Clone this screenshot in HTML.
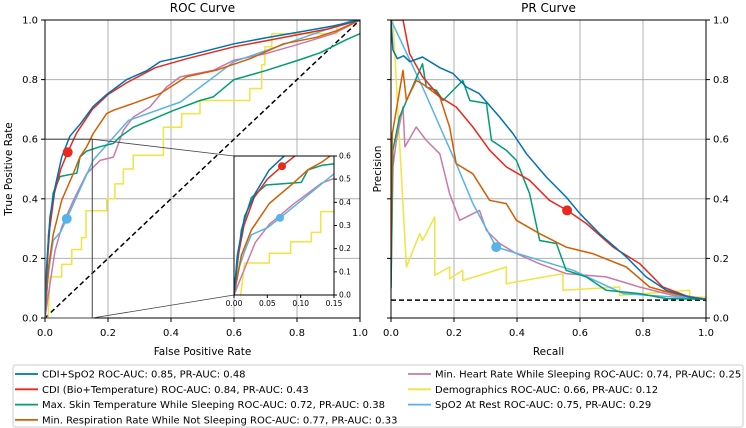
<!DOCTYPE html>
<html><head><meta charset="utf-8">
<style>
body{margin:0;background:#fff;}
svg{display:block;font-family:"DejaVu Sans","Liberation Sans",sans-serif;}
</style></head>
<body>
<svg id="chart" width="746" height="428" viewBox="0 0 746 428" xmlns="http://www.w3.org/2000/svg"></svg>
<script>
const seriesNames = ["CDI+SpO2 ROC-AUC: 0.85, PR-AUC: 0.48","CDI (Bio+Temperature) ROC-AUC: 0.84, PR-AUC: 0.43","Max. Skin Temperature While Sleeping ROC-AUC: 0.72, PR-AUC: 0.38","Min. Respiration Rate While Not Sleeping ROC-AUC: 0.77, PR-AUC: 0.33","Min. Heart Rate While Sleeping ROC-AUC: 0.74, PR-AUC: 0.25","Demographics ROC-AUC: 0.66, PR-AUC: 0.12","SpO2 At Rest ROC-AUC: 0.75, PR-AUC: 0.29"];
const seriesColors = ["#0072B2","#E8291C","#009E73","#D55E00","#CC79A7","#F0E442","#56B4E9"];
const tickLabels = ["0.0","0.2","0.4","0.6","0.8","1.0"];
const insetXTicks = ["0.00","0.05","0.10","0.15"];
const insetYTicks = ["0.0","0.1","0.2","0.3","0.4","0.5","0.6"];
const rocBlue = [[0,0],[0.005,0.17],[0.016,0.34],[0.032,0.44],[0.053,0.54],[0.079,0.61],[0.111,0.65],[0.153,0.71],[0.196,0.75],[0.259,0.8],[0.323,0.83],[0.365,0.86],[0.45,0.88],[0.6,0.92],[0.7,0.94],[0.81,0.96],[0.915,0.98],[1,1]];
const rocRed = [[0,0],[0.005,0.15],[0.015,0.3],[0.03,0.42],[0.05,0.5],[0.072,0.556],[0.1,0.62],[0.15,0.7],[0.2,0.75],[0.26,0.79],[0.35,0.84],[0.45,0.87],[0.6,0.91],[0.7,0.93],[0.8,0.95],[0.9,0.97],[1,1]];
const rocGreen = [[0,0],[0.011,0.28],[0.026,0.42],[0.048,0.475],[0.101,0.486],[0.111,0.54],[0.132,0.56],[0.175,0.575],[0.217,0.586],[0.238,0.608],[0.28,0.64],[0.344,0.668],[0.407,0.696],[0.492,0.73],[0.534,0.742],[0.6,0.8],[0.7,0.83],[0.81,0.867],[0.873,0.89],[0.958,0.935],[1,0.954]];
const rocOrange = [[0,0],[0.011,0.17],[0.026,0.28],[0.053,0.395],[0.09,0.485],[0.111,0.541],[0.132,0.574],[0.153,0.619],[0.196,0.686],[0.217,0.697],[0.28,0.72],[0.365,0.753],[0.45,0.81],[0.545,0.832],[0.651,0.87],[0.757,0.92],[0.862,0.942],[0.926,0.964],[1,1]];
const rocPink = [[0,0],[0.016,0.115],[0.032,0.227],[0.053,0.305],[0.09,0.394],[0.132,0.484],[0.175,0.529],[0.217,0.54],[0.249,0.63],[0.28,0.674],[0.333,0.708],[0.386,0.775],[0.429,0.809],[0.534,0.831],[0.6,0.865],[0.7,0.887],[0.81,0.92],[0.915,0.954],[0.958,0.977],[1,1]];
const rocYellow = [[0.01,0],[0.016,0.138],[0.053,0.138],[0.053,0.18],[0.085,0.18],[0.085,0.23],[0.116,0.23],[0.116,0.27],[0.13,0.27],[0.13,0.36],[0.196,0.36],[0.196,0.4],[0.222,0.4],[0.222,0.45],[0.249,0.45],[0.249,0.5],[0.28,0.5],[0.28,0.546],[0.376,0.546],[0.376,0.64],[0.434,0.64],[0.434,0.686],[0.492,0.686],[0.492,0.73],[0.65,0.73],[0.65,0.77],[0.688,0.77],[0.688,0.85],[0.698,0.85],[0.698,0.91],[0.72,0.91],[0.72,0.954],[0.926,0.954],[0.926,0.98],[1,1]];
const rocLightBlue = [[0,0],[0.008,0.12],[0.016,0.19],[0.026,0.26],[0.05,0.29],[0.069,0.333],[0.153,0.53],[0.265,0.663],[0.43,0.725],[0.6,0.86],[0.98,1],[1,1]];
const prBlue = [[0,1],[0.006,0.9],[0.02,0.87],[0.04,0.88],[0.06,0.86],[0.1,0.876],[0.155,0.84],[0.197,0.82],[0.239,0.775],[0.28,0.753],[0.345,0.674],[0.387,0.619],[0.43,0.551],[0.493,0.473],[0.556,0.406],[0.6,0.35],[0.662,0.283],[0.747,0.205],[0.81,0.138],[0.874,0.093],[0.948,0.07],[1,0.063]];
const prRed = [[0,1],[0.038,1],[0.059,0.887],[0.1,0.81],[0.155,0.742],[0.207,0.708],[0.26,0.641],[0.313,0.563],[0.366,0.507],[0.44,0.462],[0.503,0.395],[0.559,0.361],[0.62,0.317],[0.705,0.238],[0.79,0.182],[0.863,0.104],[0.948,0.07],[1,0.063]];
const prGreen = [[0,0.1],[0.006,0.563],[0.027,0.674],[0.059,0.753],[0.1,0.853],[0.112,0.775],[0.144,0.764],[0.165,0.73],[0.228,0.797],[0.25,0.73],[0.303,0.72],[0.319,0.596],[0.366,0.563],[0.398,0.529],[0.44,0.417],[0.472,0.26],[0.525,0.25],[0.556,0.16],[0.62,0.138],[0.683,0.093],[0.789,0.082],[0.874,0.065],[1,0.063]];
const prOrange = [[0,0.2],[0.004,0.618],[0.038,0.831],[0.049,0.73],[0.08,0.797],[0.1,0.786],[0.155,0.742],[0.186,0.641],[0.207,0.518],[0.26,0.484],[0.313,0.395],[0.366,0.384],[0.398,0.328],[0.472,0.283],[0.556,0.238],[0.64,0.216],[0.747,0.171],[0.821,0.104],[0.895,0.082],[1,0.063]];
const prPink = [[0,0.1],[0.006,0.507],[0.017,0.596],[0.038,0.708],[0.044,0.574],[0.08,0.641],[0.112,0.596],[0.155,0.551],[0.186,0.417],[0.218,0.328],[0.281,0.361],[0.303,0.294],[0.345,0.25],[0.398,0.216],[0.472,0.182],[0.556,0.149],[0.683,0.138],[0.789,0.104],[0.895,0.076],[1,0.063]];
const prYellow = [[0.006,1],[0.049,0.171],[0.091,0.283],[0.1,0.26],[0.139,0.339],[0.139,0.143],[0.186,0.171],[0.186,0.132],[0.228,0.16],[0.228,0.126],[0.366,0.171],[0.366,0.115],[0.546,0.149],[0.546,0.093],[0.726,0.104],[0.726,0.076],[0.948,0.093],[0.948,0.07],[1,0.07]];
const prLightBlue = [[0,1],[0.1,0.775],[0.207,0.518],[0.26,0.384],[0.334,0.238],[0.578,0.16],[0.737,0.082],[1,0.063]];
const prBaseline = 0.06;
const optRed = [0.072,0.556]; const optLightBlue = [0.069,0.333];
const prOptRed = [0.559,0.361]; const prOptLightBlue = [0.334,0.238];

const rocSeries=[rocBlue,rocRed,rocGreen,rocOrange,rocPink,rocYellow,rocLightBlue];
const prSeries=[prBlue,prRed,prGreen,prOrange,prPink,prYellow,prLightBlue];
const drawOrder=[5,4,6,2,3,1,0];
const svg=document.getElementById('chart');
const NS="http://www.w3.org/2000/svg";
function mk(tag,attrs,parent){const e=document.createElementNS(NS,tag);for(const k in attrs)e.setAttribute(k,attrs[k]);(parent||svg).appendChild(e);return e;}
function txt(s,x,y,size,anchor,parent){const t=mk('text',{x:x,y:y,'font-size':size,'text-anchor':anchor||'middle',fill:'#000'},parent);t.textContent=s;return t;}
function axis(x0,x1,y0,y1,dx0,dx1,dy0,dy1){return {sx:v=>x0+(v-dx0)/(dx1-dx0)*(x1-x0),sy:v=>y1-(v-dy0)/(dy1-dy0)*(y1-y0)};}
const R=axis(45,360,20,318,0,1,0,1), P=axis(391,706,20,318,0,1,0,1), I=axis(234,334,156,295,0,0.15,0,0.6);
const defs=mk('defs',{});
function clip(id,x,y,w,h){const c=mk('clipPath',{id:id},defs);mk('rect',{x:x,y:y,width:w,height:h},c);}
clip('clipR',45,20,315,298);clip('clipP',391,20,315,298);clip('clipI',234,156,100,139);
function poly(ax,pts,color,g,dash){const d=pts.map(p=>ax.sx(p[0]).toFixed(1)+','+ax.sy(p[1]).toFixed(1)).join(' ');return mk('polyline',{points:d,fill:'none',stroke:color,'stroke-width':1.5,'stroke-linejoin':'round','stroke-dasharray':dash||'none'},g);}
function frame(x,y,w,h,name){const r=mk('rect',{x:x,y:y,width:w,height:h,fill:'none',stroke:'#000','stroke-width':1});}

// ROC panel
const gR=mk('g',{'clip-path':'url(#clipR)'});


tickLabels.forEach((s,i)=>{const v=i/5;mk('line',{x1:R.sx(v),x2:R.sx(v),y1:20,y2:318,stroke:'#b0b0b0','stroke-width':1},gR);mk('line',{x1:45,x2:360,y1:R.sy(v),y2:R.sy(v),stroke:'#b0b0b0','stroke-width':1},gR);});
poly(R,[[0,0],[1,1]],'#000',gR,'5,3');
drawOrder.forEach(i=>{const l=poly(R,rocSeries[i],seriesColors[i],gR);});
[[optRed,1],[optLightBlue,6]].forEach(([p,i])=>{const c=mk('circle',{cx:R.sx(p[0]),cy:R.sy(p[1]),r:5,fill:seriesColors[i]});});
frame(45,20,315,298,'roc-axes-frame');
mk('rect',{x:R.sx(0),y:R.sy(0.6),width:R.sx(0.15)-R.sx(0),height:R.sy(0)-R.sy(0.6),fill:'none',stroke:'#444','stroke-width':1});
mk('line',{x1:R.sx(0.15),y1:R.sy(0.6),x2:234,y2:156,stroke:'#444','stroke-width':0.8});
mk('line',{x1:R.sx(0.15),y1:R.sy(0),x2:234,y2:295,stroke:'#444','stroke-width':0.8});
tickLabels.forEach((s,i)=>{const v=i/5;mk('line',{x1:R.sx(v),x2:R.sx(v),y1:318,y2:322,stroke:'#000'});txt(s,R.sx(v),336,10);mk('line',{x1:41,x2:45,y1:R.sy(v),y2:R.sy(v),stroke:'#000'});txt(s,38,R.sy(v)+3.5,10,'end');});
const t1=txt('ROC Curve',202.5,12,12);
const xl1=txt('False Positive Rate',202.5,355,10.5);
const yl1=txt('True Positive Rate',0,0,10.5);yl1.setAttribute('transform','translate(12,169) rotate(-90)');

// Inset
const inBg=mk('rect',{x:234,y:156,width:100,height:139,fill:'#fff'});

const gI=mk('g',{'clip-path':'url(#clipI)'});
drawOrder.forEach(i=>poly(I,rocSeries[i],seriesColors[i],gI));
[[optRed,1],[optLightBlue,6]].forEach(([p,i])=>mk('circle',{cx:I.sx(p[0]),cy:I.sy(p[1]),r:4,fill:seriesColors[i]}));
frame(234,156,100,139,'inset-frame');
insetXTicks.forEach((s,i)=>{const v=i*0.05;mk('line',{x1:I.sx(v),x2:I.sx(v),y1:295,y2:298,stroke:'#000'});txt(s,I.sx(v),306,7.5);});
insetYTicks.forEach((s,i)=>{const v=i*0.1;mk('line',{x1:334,x2:337,y1:I.sy(v),y2:I.sy(v),stroke:'#000'});txt(s,339,I.sy(v)+2.5,7.5,'start');});

// PR panel
const gP=mk('g',{'clip-path':'url(#clipP)'});


tickLabels.forEach((s,i)=>{const v=i/5;mk('line',{x1:P.sx(v),x2:P.sx(v),y1:20,y2:318,stroke:'#b0b0b0','stroke-width':1},gP);mk('line',{x1:391,x2:706,y1:P.sy(v),y2:P.sy(v),stroke:'#b0b0b0','stroke-width':1},gP);});
poly(P,[[0,prBaseline],[1,prBaseline]],'#000',gP,'5,3');
drawOrder.forEach(i=>{const l=poly(P,prSeries[i],seriesColors[i],gP);});
[[prOptRed,1],[prOptLightBlue,6]].forEach(([p,i])=>{const c=mk('circle',{cx:P.sx(p[0]),cy:P.sy(p[1]),r:5,fill:seriesColors[i]});});
frame(391,20,315,298,'pr-axes-frame');
tickLabels.forEach((s,i)=>{const v=i/5;mk('line',{x1:P.sx(v),x2:P.sx(v),y1:318,y2:322,stroke:'#000'});txt(s,P.sx(v),336,10);mk('line',{x1:706,x2:710,y1:P.sy(v),y2:P.sy(v),stroke:'#000'});mk('line',{x1:387,x2:391,y1:P.sy(v),y2:P.sy(v),stroke:'#000'});txt(s,713,P.sy(v)+3.5,10,'start');});
const t2=txt('PR Curve',548.5,12,12);
const xl2=txt('Recall',548.5,355,10.5);
const yl2=txt('Precision',0,0,10.5);yl2.setAttribute('transform','translate(381,169) rotate(-90)');

// Legend
const lg=mk('g',{});


mk('rect',{x:13,y:365,width:730,height:62,fill:'#fff',stroke:'#ccc','stroke-width':1,rx:2},lg);
seriesNames.forEach((n,i)=>{const col=i<4?0:1,row=i<4?i:i-4;const x=col?408:15,y=374+row*15.3;
const e=mk('g',{},lg);


mk('line',{x1:x,x2:x+23,y1:y,y2:y,stroke:seriesColors[i],'stroke-width':1.8},e);
txt(n,x+27,y+3.5,10,'start',e);});
</script>
</body></html>
